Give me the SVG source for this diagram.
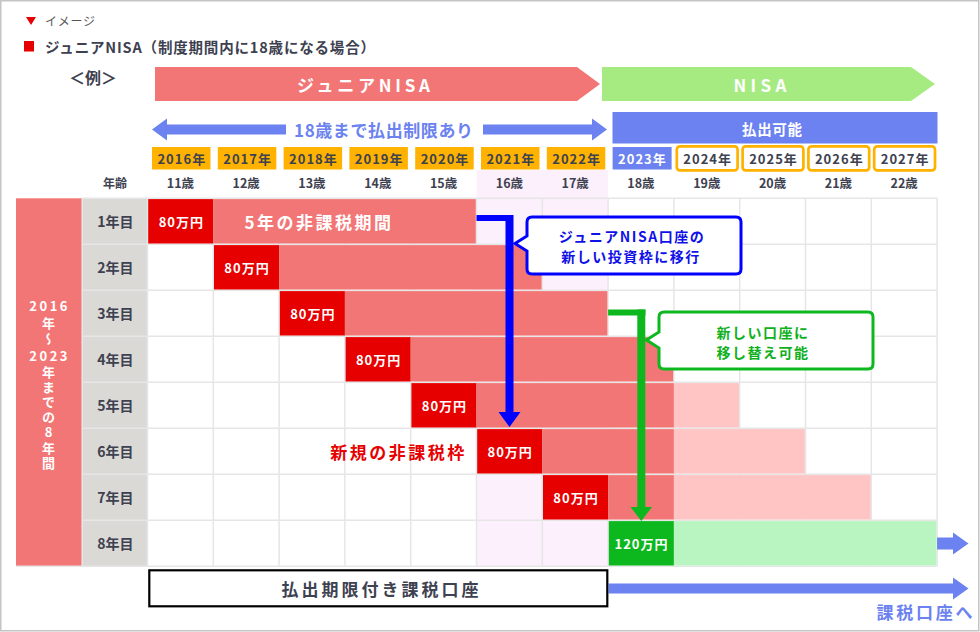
<svg xmlns="http://www.w3.org/2000/svg" width="980" height="632" viewBox="0 0 980 632">
<style>
.t{font-family:"Noto Sans CJK JP","Noto Sans",sans-serif;font-weight:700;text-anchor:middle;dominant-baseline:central}
.v{font-family:"Noto Sans CJK JP","Noto Sans",sans-serif;font-weight:700;font-size:13px;fill:#ffffff;writing-mode:vertical-rl;text-orientation:upright}
.d{fill:#3d4150}
.w{fill:#ffffff}
.r{fill:#e60000}
.b{fill:#6b82f0}
.s12{font-size:12px}
.s13{font-size:13px;letter-spacing:1px}
.s14{font-size:14px}
.s17{font-size:17px;letter-spacing:2.5px}
.grid{stroke:#e6e6e6;stroke-width:1.5}
.pk{fill:#f37676}
.rd{fill:#e60000}
.lp{fill:#ffc4c4}
.yr{fill:#ffb300}
.yw{fill:#ffffff;stroke:#ffb300;stroke-width:2.7}
</style>
<rect x="0.75" y="0.75" width="978" height="630" fill="#ffffff" stroke="#c4c4c4" stroke-width="1.5"/>

<g id="header">
  <polygon points="26,17 36,17 31,25" fill="#e60000"/>
  <text x="45" y="20.5" textLength="50" lengthAdjust="spacing" style="font-family:'Noto Sans CJK JP',sans-serif;font-size:12px;dominant-baseline:central" fill="#555555">イメージ</text>
  <rect x="24" y="41" width="10" height="10.5" fill="#e60000"/>
  <text x="45" y="46.5" class="d" textLength="330" lengthAdjust="spacing" style="font-family:'Noto Sans CJK JP',sans-serif;font-weight:700;font-size:14.5px;dominant-baseline:central">ジュニアNISA（制度期間内に18歳になる場合）</text>
  <text x="93" y="77" class="t d" style="font-size:16px">＜例＞</text>
</g>

<g id="junior-nisa-arrow">
  <polygon points="155,67 577,67 600,84 577,101 155,101" fill="#f37676"/>
  <text x="363.5" y="84" class="t w" style="font-size:17px" textLength="133" lengthAdjust="spacing">ジュニアNISA</text>
</g>
<g id="nisa-arrow">
  <polygon points="602,67 911,67 935,84 911,101 602,101" fill="#a6eb82"/>
  <text x="760" y="84" class="t w" style="font-size:17px" textLength="53" lengthAdjust="spacing">NISA</text>
</g>

<g id="restriction-arrow">
  <polygon points="152,129.5 167,118.5 167,124.5 286,124.5 286,134.5 167,134.5 167,140.5" fill="#6b82f0"/>
  <polygon points="483,124.5 592,124.5 592,118.5 607,129.5 592,140.5 592,134.5 483,134.5" fill="#6b82f0"/>
  <text x="383.5" y="129.5" class="t b" style="font-size:17px" textLength="179" lengthAdjust="spacing">18歳まで払出制限あり</text>
</g>

<g id="withdrawable">
  <rect x="612.5" y="112" width="325" height="31.5" fill="#6b82f0"/>
  <text x="772" y="128" class="t w" style="font-size:14.5px" textLength="60" lengthAdjust="spacing">払出可能</text>
</g>

<g id="years">
  <rect class="yr" x="152" y="147" width="58.5" height="22.5"/>
  <text class="t d s13" x="181.8" y="158.5">2016年</text>
  <rect class="yr" x="217.8" y="147" width="58.5" height="22.5"/>
  <text class="t d s13" x="247.6" y="158.5">2017年</text>
  <rect class="yr" x="283.6" y="147" width="58.5" height="22.5"/>
  <text class="t d s13" x="313.4" y="158.5">2018年</text>
  <rect class="yr" x="349.4" y="147" width="58.5" height="22.5"/>
  <text class="t d s13" x="379.2" y="158.5">2019年</text>
  <rect class="yr" x="415.2" y="147" width="58.5" height="22.5"/>
  <text class="t d s13" x="445" y="158.5">2020年</text>
  <rect class="yr" x="481" y="147" width="58.5" height="22.5"/>
  <text class="t d s13" x="510.8" y="158.5">2021年</text>
  <rect class="yr" x="546.8" y="147" width="58.5" height="22.5"/>
  <text class="t d s13" x="576.6" y="158.5">2022年</text>
  <rect x="612.6" y="147" width="59" height="22.5" fill="#6b82f0"/>
  <text class="t w s13" x="642.4" y="158.5">2023年</text>
  <rect class="yw" x="676.8" y="146.4" width="60.8" height="23.9" rx="3"/>
  <text class="t d s13" x="707.7" y="158.5">2024年</text>
  <rect class="yw" x="742.6" y="146.4" width="60.8" height="23.9" rx="3"/>
  <text class="t d s13" x="773.5" y="158.5">2025年</text>
  <rect class="yw" x="808.4" y="146.4" width="60.8" height="23.9" rx="3"/>
  <text class="t d s13" x="839.3" y="158.5">2026年</text>
  <rect class="yw" x="874.2" y="146.4" width="60.8" height="23.9" rx="3"/>
  <text class="t d s13" x="905.1" y="158.5">2027年</text>
</g>

<rect id="teen-band" x="476.5" y="170" width="131.6" height="396.3" fill="#fdf0fd"/>

<g id="ages">
  <text class="t d s12" x="115" y="182.5">年齢</text>
  <text class="t d" style="font-size:12.5px" x="180.4" y="182.5">11歳</text>
  <text class="t d" style="font-size:12.5px" x="246.2" y="182.5">12歳</text>
  <text class="t d" style="font-size:12.5px" x="312" y="182.5">13歳</text>
  <text class="t d" style="font-size:12.5px" x="377.8" y="182.5">14歳</text>
  <text class="t d" style="font-size:12.5px" x="443.6" y="182.5">15歳</text>
  <text class="t d" style="font-size:12.5px" x="509.4" y="182.5">16歳</text>
  <text class="t d" style="font-size:12.5px" x="575.2" y="182.5">17歳</text>
  <text class="t d" style="font-size:12.5px" x="641" y="182.5">18歳</text>
  <text class="t d" style="font-size:12.5px" x="706.8" y="182.5">19歳</text>
  <text class="t d" style="font-size:12.5px" x="772.6" y="182.5">20歳</text>
  <text class="t d" style="font-size:12.5px" x="838.4" y="182.5">21歳</text>
  <text class="t d" style="font-size:12.5px" x="904.2" y="182.5">22歳</text>
</g>

<g id="period-label">
  <rect x="16" y="198.3" width="66" height="368" fill="#f37676"/>
  <text class="t w" x="49.7" y="305" style="font-size:13px;letter-spacing:2.5px">2016</text>
  <text class="v" x="48.5" y="316.8" style="letter-spacing:3px">年～</text>
  <text class="t w" x="49.7" y="355.7" style="font-size:13px;letter-spacing:2.5px">2023</text>
  <text class="v" x="48.5" y="365.2" style="letter-spacing:2.2px">年までの8年間</text>
</g>

<g id="row-headers">
  <rect x="82.5" y="198.3" width="65" height="368" fill="#dbd9d6"/>
  <text class="t d s14" x="115.5" y="221.3">1年目</text>
  <text class="t d s14" x="115.5" y="267.3">2年目</text>
  <text class="t d s14" x="115.5" y="313.3">3年目</text>
  <text class="t d s14" x="115.5" y="359.3">4年目</text>
  <text class="t d s14" x="115.5" y="405.3">5年目</text>
  <text class="t d s14" x="115.5" y="451.3">6年目</text>
  <text class="t d s14" x="115.5" y="497.3">7年目</text>
  <text class="t d s14" x="115.5" y="543.3">8年目</text>
</g>

<g id="grid">
  <path class="grid" fill="none" d="M82 198.3H937.1M82 244.3H937.1M82 290.3H937.1M82 336.3H937.1M82 382.3H937.1M82 428.3H937.1M82 474.3H937.1M82 520.3H937.1M16 566.3H937.1M82.2 198.3V566.3M147.5 198.3V566.3M213.3 198.3V566.3M279.1 198.3V566.3M344.9 198.3V566.3M410.7 198.3V566.3M476.5 198.3V566.3M542.3 198.3V566.3M608.1 198.3V566.3M673.9 198.3V566.3M739.7 198.3V566.3M805.5 198.3V566.3M871.3 198.3V566.3M937.1 198.3V566.3"/>
</g>

<g id="row1">
  <rect class="rd" x="148.2" y="199.1" width="65.1" height="44.4"/>
  <rect class="pk" x="213.3" y="199.1" width="262.5" height="44.4"/>
  <text class="t w s13" x="181.3" y="221.3">80万円</text>
  <text class="t w s17" x="319" y="221">5年の非課税期間</text>
</g>
<g id="row2">
  <rect class="rd" x="214" y="245.1" width="65.1" height="44.4"/>
  <rect class="pk" x="279.1" y="245.1" width="262.5" height="44.4"/>
  <text class="t w s13" x="247" y="267.3">80万円</text>
</g>
<g id="row3">
  <rect class="rd" x="279.8" y="291.1" width="65.1" height="44.4"/>
  <rect class="pk" x="344.9" y="291.1" width="262.5" height="44.4"/>
  <text class="t w s13" x="312.8" y="313.3">80万円</text>
</g>
<g id="row4">
  <rect class="rd" x="345.6" y="337.1" width="65.1" height="44.4"/>
  <rect class="pk" x="410.7" y="337.1" width="262.5" height="44.4"/>
  <text class="t w s13" x="378.6" y="359.3">80万円</text>
</g>
<g id="row5">
  <rect class="rd" x="411.4" y="383.1" width="65.1" height="44.4"/>
  <rect class="pk" x="476.5" y="383.1" width="197.4" height="44.4"/>
  <rect class="lp" x="673.9" y="383.1" width="65.1" height="44.4"/>
  <text class="t w s13" x="444.4" y="405.3">80万円</text>
</g>
<g id="row6">
  <rect class="rd" x="477.2" y="429.1" width="65.1" height="44.4"/>
  <rect class="pk" x="542.3" y="429.1" width="131.6" height="44.4"/>
  <rect class="lp" x="673.9" y="429.1" width="130.9" height="44.4"/>
  <text class="t w s13" x="510.2" y="451.3">80万円</text>
  <text class="t r s17" x="398.5" y="451.5">新規の非課税枠</text>
</g>
<g id="row7">
  <rect class="rd" x="543" y="475.1" width="65.1" height="44.4"/>
  <rect class="pk" x="608.1" y="475.1" width="65.8" height="44.4"/>
  <rect class="lp" x="673.9" y="475.1" width="196.7" height="44.4"/>
  <text class="t w s13" x="576" y="497.3">80万円</text>
</g>
<g id="row8">
  <rect x="608.8" y="521.1" width="65.1" height="44.4" fill="#0cb81e"/>
  <rect x="673.9" y="521.1" width="262.5" height="44.4" fill="#b8f5c0"/>
  <text class="t w s13" x="641.5" y="543.3">120万円</text>
  <polygon points="937.1,537.5 953,537.5 953,532.5 968.5,543.5 953,554.5 953,549.5 937.1,549.5" fill="#6b82f0"/>
</g>

<g id="connectors">
  <path d="M476.5 218H513" stroke="#0000ff" stroke-width="6" fill="none"/>
  <path d="M509.5 215V413" stroke="#0000ff" stroke-width="8" fill="none"/>
  <polygon points="498.5,412 520.5,412 509.5,427" fill="#0000ff"/>
  <path d="M608.1 312.5H645.5" stroke="#0cb81e" stroke-width="6" fill="none"/>
  <path d="M641.3 309.5V508" stroke="#0cb81e" stroke-width="8" fill="none"/>
  <polygon points="630.5,507 652,507 641.3,521" fill="#0cb81e"/>
  <polygon points="608.5,583.5 953,583.5 953,577.5 968.5,588.5 953,599.5 953,593.5 608.5,593.5" fill="#6b82f0"/>
</g>

<g id="callout-junior">
  <path d="M532 217H736Q741 217 741 222V269Q741 274 736 274H532Q527 274 527 269V251L515 243.5L527 236V222Q527 217 532 217Z" fill="#ffffff" stroke="#0000ff" stroke-width="3"/>
  <text class="t" x="632" y="236" style="font-size:14px;letter-spacing:1.5px;fill:#1010e8">ジュニアNISA口座の</text>
  <text class="t" x="631" y="256" style="font-size:14px;letter-spacing:1.5px;fill:#1010e8">新しい投資枠に移行</text>
</g>

<g id="callout-nisa">
  <path d="M664 312H868Q873 312 873 317V364Q873 369 868 369H664Q659 369 659 364V348L646.5 340L659 332V317Q659 312 664 312Z" fill="#ffffff" stroke="#0cb81e" stroke-width="3"/>
  <text class="t" x="763" y="331.5" style="font-size:14px;letter-spacing:1.5px;fill:#10b020">新しい口座に</text>
  <text class="t" x="763" y="351.5" style="font-size:14px;letter-spacing:1.5px;fill:#10b020">移し替え可能</text>
</g>

<g id="taxable-account">
  <rect x="149.3" y="570.3" width="458" height="36" fill="#ffffff" stroke="#000000" stroke-width="2.2"/>
  <text class="t d" x="381.5" y="588.5" style="font-size:17px;letter-spacing:3px">払出期限付き課税口座</text>
</g>

<g id="to-taxable">
  <text class="t b" x="924.5" y="611.5" style="font-size:17px" textLength="96" lengthAdjust="spacing">課税口座へ</text>
</g>
</svg>
